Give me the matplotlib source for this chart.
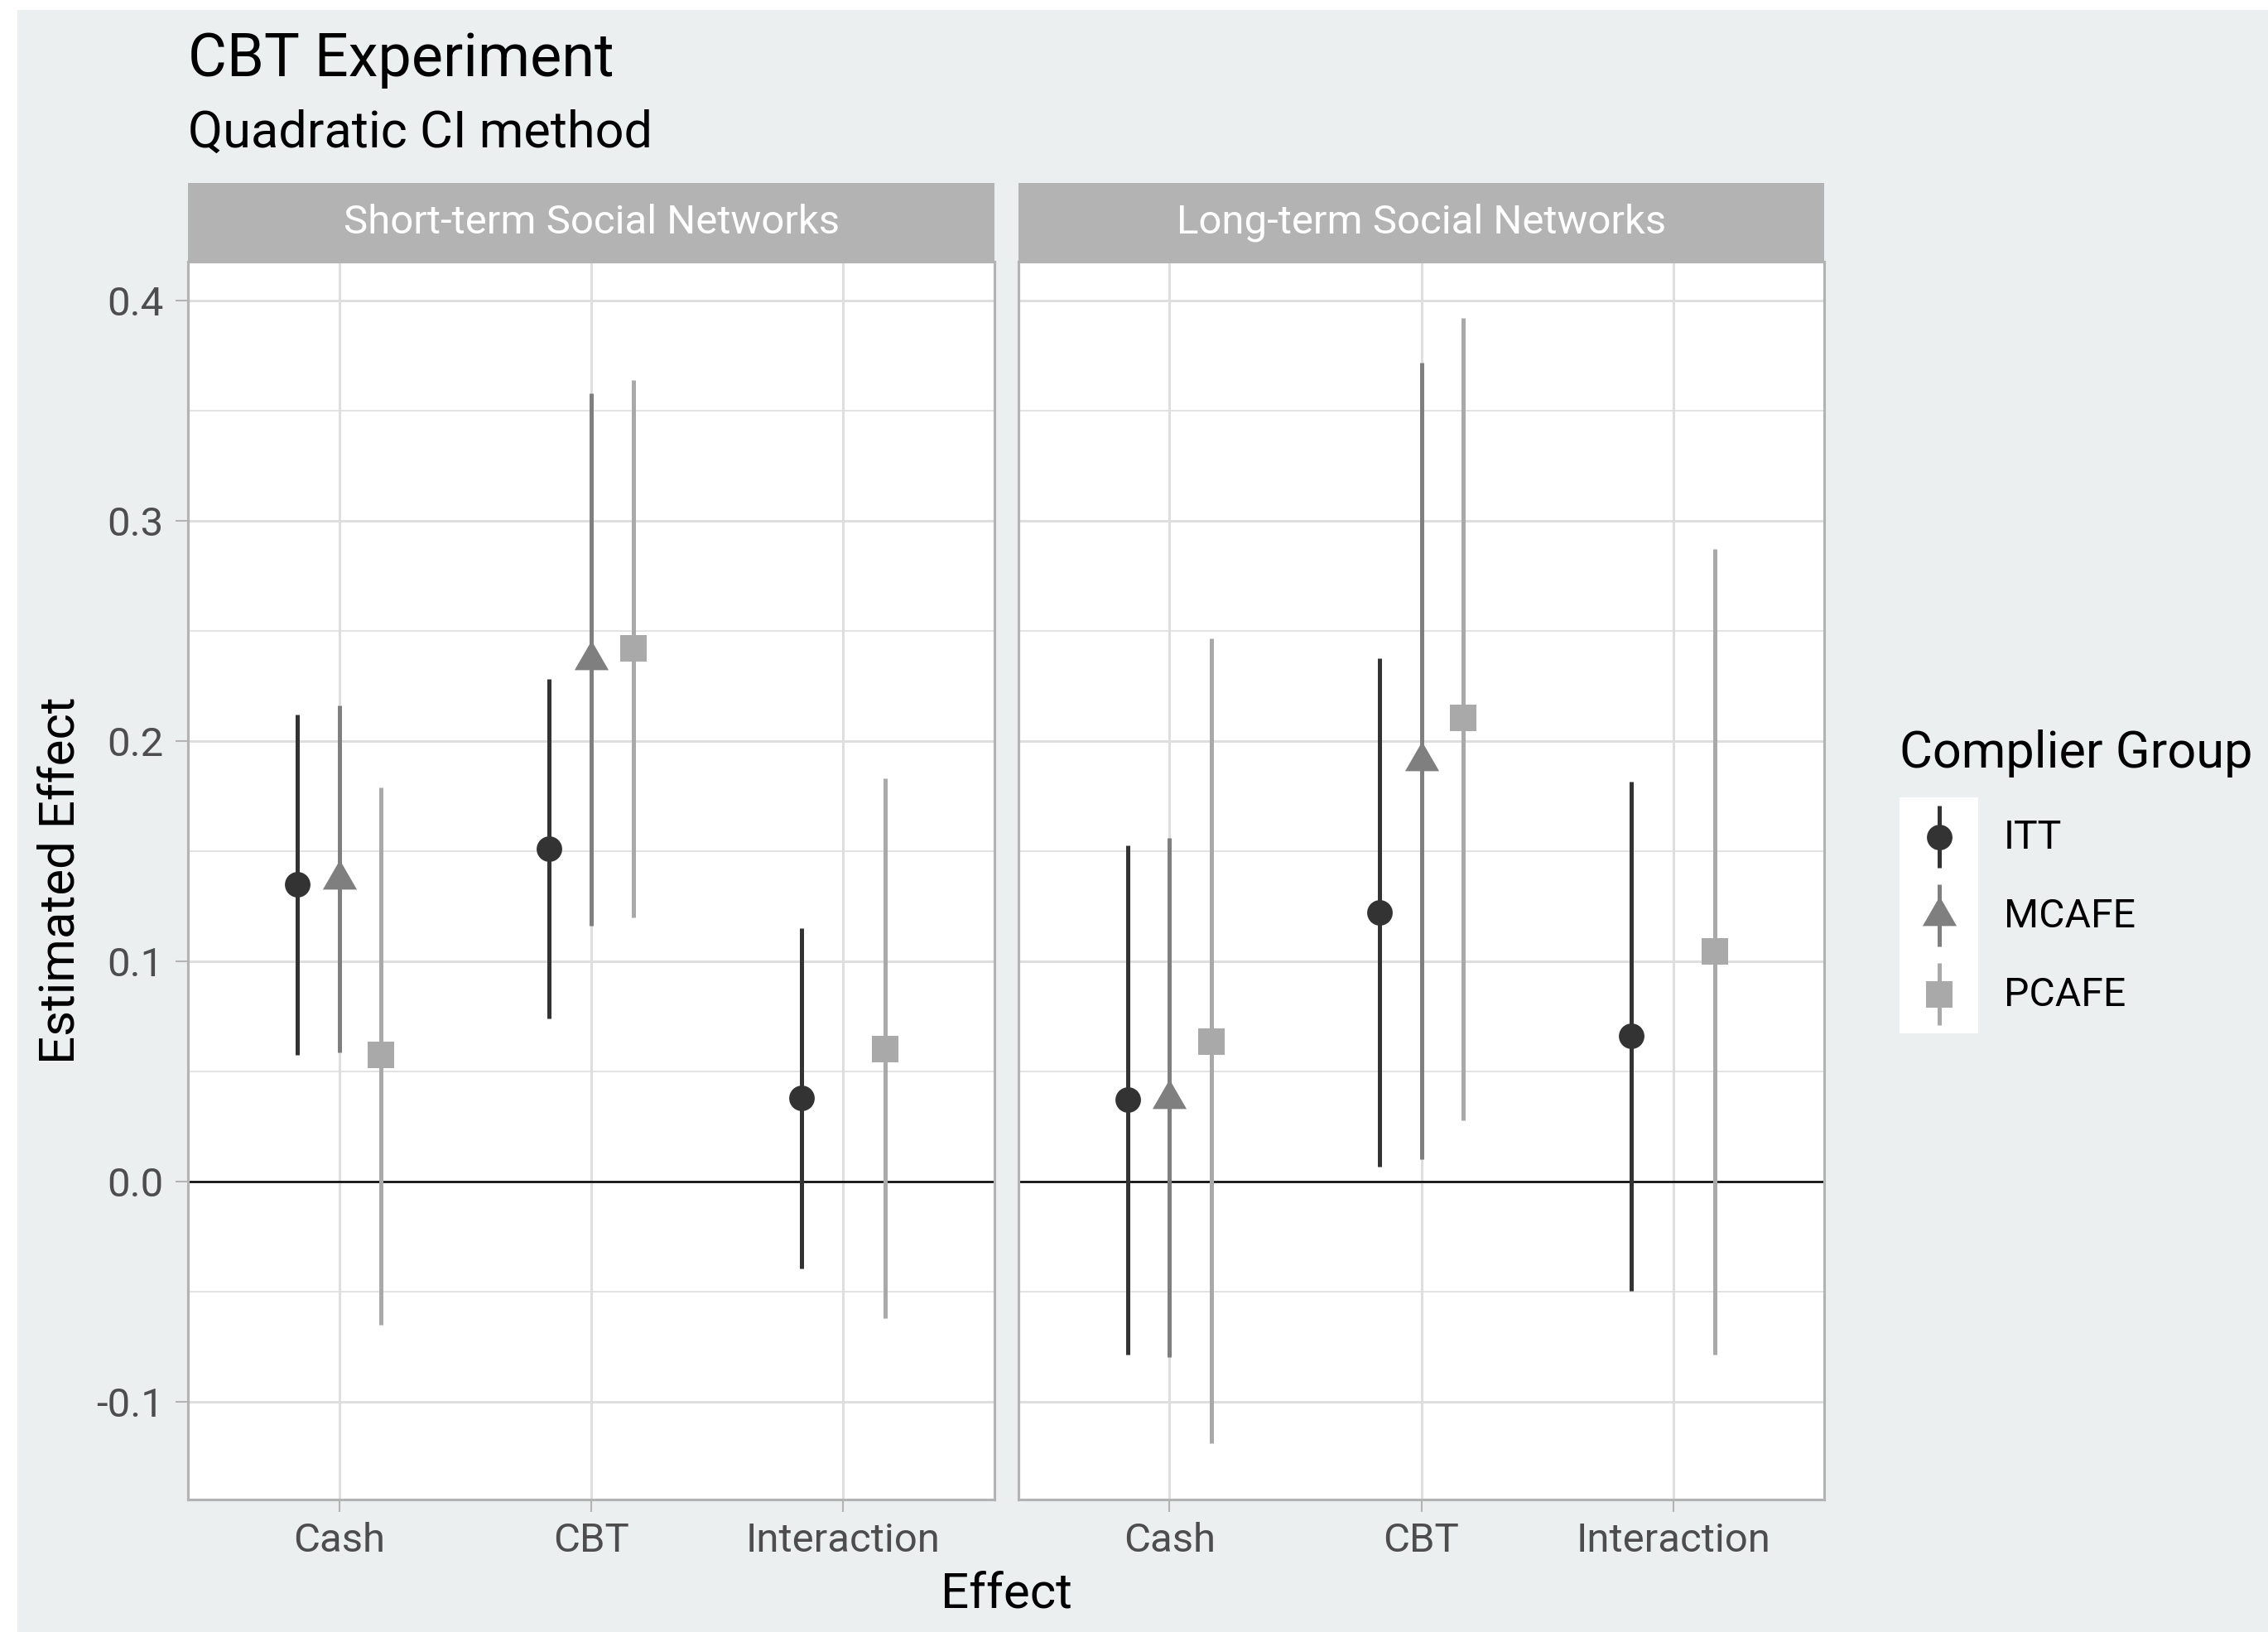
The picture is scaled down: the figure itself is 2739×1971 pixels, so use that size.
import numpy as np
import matplotlib
matplotlib.use("Agg")
import matplotlib.pyplot as plt
from matplotlib.patches import Rectangle

plt.rcParams['font.family'] = ['Roboto', 'DejaVu Sans']

# ---------------- data ----------------
effects = ["Cash", "CBT", "Interaction"]
groups = ["ITT", "MCAFE", "PCAFE"]
panels = ["Short-term Social Networks", "Long-term Social Networks"]

# Short-term Social Networks
short_itt_est = [0.135, 0.151, 0.038]
short_itt_lo = [0.0575, 0.074, -0.0395]
short_itt_hi = [0.212, 0.228, 0.115]
short_mcafe_est = [0.137, 0.237, np.nan]
short_mcafe_lo = [0.0585, 0.116, np.nan]
short_mcafe_hi = [0.216, 0.358, np.nan]
short_pcafe_est = [0.0575, 0.242, 0.060]
short_pcafe_lo = [-0.065, 0.120, -0.062]
short_pcafe_hi = [0.179, 0.364, 0.183]

# Long-term Social Networks
long_itt_est = [0.037, 0.122, 0.066]
long_itt_lo = [-0.0786, 0.0065, -0.0496]
long_itt_hi = [0.1526, 0.2377, 0.1817]
long_mcafe_est = [0.0375, 0.191, np.nan]
long_mcafe_lo = [-0.080, 0.010, np.nan]
long_mcafe_hi = [0.156, 0.372, np.nan]
long_pcafe_est = [0.0636, 0.2104, 0.1045]
long_pcafe_lo = [-0.119, 0.0276, -0.0786]
long_pcafe_hi = [0.2467, 0.392, 0.2873]

y_ticks = [-0.1, 0.0, 0.1, 0.2, 0.3, 0.4]
y_minor = [-0.05, 0.05, 0.15, 0.25, 0.35]
y_ticklabels = ["-0.1", "0.0", "0.1", "0.2", "0.3", "0.4"]

panel_data = [
    {"ITT": (short_itt_est, short_itt_lo, short_itt_hi),
     "MCAFE": (short_mcafe_est, short_mcafe_lo, short_mcafe_hi),
     "PCAFE": (short_pcafe_est, short_pcafe_lo, short_pcafe_hi)},
    {"ITT": (long_itt_est, long_itt_lo, long_itt_hi),
     "MCAFE": (long_mcafe_est, long_mcafe_lo, long_mcafe_hi),
     "PCAFE": (long_pcafe_est, long_pcafe_lo, long_pcafe_hi)},
]

# ---------------- style ----------------
W, H = 2739, 1971
DPI = 300
BG = "#EBEFF0"
GRID = "#DEDEDE"
BORDER = "#B3B3B3"
TICKTXT = "#4D4D4D"
colors = {"ITT": "#333333", "MCAFE": "#7F7F7F", "PCAFE": "#A9A9A9"}
tri = [(-1.0, -0.5774), (1.0, -0.5774), (0.0, 1.1547), (-1.0, -0.5774)]
markers = {"ITT": "o", "MCAFE": tri, "PCAFE": "s"}
msizes = {"ITT": 7.4, "MCAFE": 11.4, "PCAFE": 7.7}
offsets = {"ITT": -1/6, "MCAFE": 0.0, "PCAFE": 1/6}
LW = 1.2

BASE = 14.4
SMALL = 11.8
fig = plt.figure(figsize=(W / DPI, H / DPI), dpi=DPI)
fig.patch.set_facecolor("white")
fig.patches.append(Rectangle((21 / W, 0), 1 - 21 / W, 1 - 12 / H,
                             transform=fig.transFigure, facecolor=BG,
                             edgecolor="none", zorder=-10))


def fx(px):
    return px / W


def fy(py):
    return 1 - py / H


panel_x = [(227, 1201), (1230, 2203)]
ptop, pbot = 316, 1811
stop = 221
xpos = np.arange(1, len(effects) + 1)

for k, (x0, x1) in enumerate(panel_x):
    ax = fig.add_axes([fx(x0), fy(pbot), (x1 - x0) / W, (pbot - ptop) / H])
    ax.set_facecolor("white")
    ax.set_yticks(y_ticks)
    ax.set_yticks(y_minor, minor=True)
    ax.set_xticks(xpos)
    ax.set_xticklabels(effects)
    ax.set_xlim(0.4, 3.6)
    ax.set_ylim(-0.1445, 0.4177)
    ax.grid(which="major", color=GRID, lw=0.72, zorder=0)
    ax.grid(which="minor", axis="y", color=GRID, lw=0.4, zorder=0)
    ax.set_axisbelow(True)
    ax.axhline(0, color="black", lw=0.6, zorder=1)
    for s in ax.spines.values():
        s.set_color(BORDER)
        s.set_linewidth(0.75)
        s.set_zorder(5)
    ax.tick_params(axis="x", which="major", length=3.6, width=0.5, color=BORDER,
                   labelsize=SMALL, labelcolor=TICKTXT, pad=2.8)
    ax.tick_params(axis="y", which="minor", length=0)
    if k == 0:
        ax.set_yticklabels(y_ticklabels)
        ax.tick_params(axis="y", which="major", length=3.6, width=0.5, color=BORDER,
                       labelsize=SMALL, labelcolor=TICKTXT, pad=3.5)
    else:
        ax.tick_params(axis="y", which="major", length=0, labelleft=False)

    for g in groups:
        est, lo, hi = panel_data[k][g]
        est = np.asarray(est, float)
        lo = np.asarray(lo, float)
        hi = np.asarray(hi, float)
        xs = xpos + offsets[g]
        ax.vlines(xs, lo, hi, color=colors[g], lw=LW, zorder=3)
        ax.plot(xs, est, linestyle="none", marker=markers[g], ms=msizes[g],
                color=colors[g], mec="none", zorder=4)

    # strip
    sax = fig.add_axes([fx(x0), fy(ptop), (x1 - x0) / W, (ptop - stop) / H])
    sax.set_facecolor(BORDER)
    sax.set_xticks([])
    sax.set_yticks([])
    for s in sax.spines.values():
        s.set_visible(False)
    sax.text(0.5, 0.5, panels[k], transform=sax.transAxes, ha="center",
             va="center", color="white", fontsize=SMALL)

# titles
fig.text(fx(227), fy(92), "CBT Experiment", fontsize=BASE * 1.2, ha="left",
         va="baseline", color="black")
fig.text(fx(227), fy(178), "Quadratic CI method", fontsize=14.7, ha="left",
         va="baseline", color="black")
fig.text(fx(1215), fy(1942), "Effect", fontsize=BASE, ha="center",
         va="baseline", color="black")
fig.text(fx(73), fy(1063), "Estimated Effect", fontsize=BASE, ha="center",
         va="center", rotation=90, color="black")

# legend
fig.text(fx(2294), fy(927), "Complier Group", fontsize=14.7, ha="left",
         va="baseline", color="black")
lax = fig.add_axes([fx(2294), fy(1248), 95 / W, (1248 - 963) / H])
lax.set_facecolor("white")
lax.set_xlim(0, 1)
lax.set_ylim(len(groups), 0)
lax.set_xticks([])
lax.set_yticks([])
for s in lax.spines.values():
    s.set_visible(False)
for i, g in enumerate(groups):
    yc = i + 0.5
    lax.vlines([0.5], [yc - 0.39], [yc + 0.39], color=colors[g], lw=LW)
    lax.plot([0.5], [yc], linestyle="none", marker=markers[g], ms=msizes[g],
             color=colors[g], mec="none")
    fig.text(fx(2420), fy(1012 + 95 * i), g, fontsize=SMALL * 0.98, ha="left",
             va="center", color="black")

fig.savefig("out.png", dpi=DPI, facecolor=fig.get_facecolor())
